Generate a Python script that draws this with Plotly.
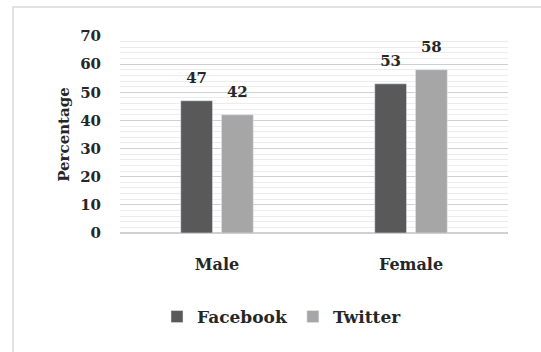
import plotly.graph_objects as go

categories = ["Male", "Female"]
facebook = [47, 53]
twitter = [42, 58]
series_names = ["Facebook", "Twitter"]
y_ticks = [0, 10, 20, 30, 40, 50, 60, 70]

W, H = 541, 352
L, R, T, B = 120, 33, 36, 119
pw, ph = W - L - R, H - T - B

def px(x):
    return (x - L) / pw

def py(y):
    return (H - B - y) / ph

FONT = "DejaVu Serif"
TXT = "#262626"

def bold(size):
    return dict(family=FONT, size=size, color=TXT, weight="bold")

fig = go.Figure()
series = [(series_names[0], facebook, "#595959"), (series_names[1], twitter, "#a6a6a6")]
for name, vals, col in series:
    fig.add_trace(go.Bar(x=categories, y=vals, name=name, marker_color=col,
                         offsetgroup=name, alignmentgroup="a"))
for name, vals, col in series:
    fig.add_trace(go.Scatter(x=categories, y=vals, mode="markers+text", text=vals,
                             textposition="top center", textfont=bold(15),
                             marker=dict(size=21, opacity=0), cliponaxis=False,
                             offsetgroup=name, alignmentgroup="a",
                             showlegend=False, hoverinfo="skip"))

fig.update_layout(
    width=W, height=H,
    margin=dict(l=L, r=R, t=T, b=B),
    paper_bgcolor="white", plot_bgcolor="white",
    barmode="group", bargap=0.58, bargroupgap=0.22,
    scattermode="group", scattergap=0.58,
    font=bold(15),
    legend=dict(orientation="h", x=px(282), xanchor="center", y=py(317), yanchor="middle",
                font=bold(17), itemwidth=30, traceorder="normal"),
    xaxis=dict(showgrid=False, showline=False, ticks="", tickfont=bold(16),
               ticklabelstandoff=20),
    yaxis=dict(range=[0, 70], tickvals=y_ticks, showgrid=True, gridcolor="#d0d0d0",
               gridwidth=1, zeroline=True, zerolinecolor="#d0d0d0",
               tickfont=bold(15), ticklabelstandoff=18,
               title=dict(text="Percentage", font=bold(15), standoff=6),
               minor=dict(dtick=2, showgrid=True, gridcolor="#ececec", gridwidth=1)),
    shapes=[dict(type="rect", xref="paper", yref="paper",
                 x0=px(13), x1=px(560), y0=py(7), y1=py(370),
                 line=dict(color="#d9d9d9", width=1.5), fillcolor="rgba(0,0,0,0)", layer="below")],
)
fig.write_html("out.html")
